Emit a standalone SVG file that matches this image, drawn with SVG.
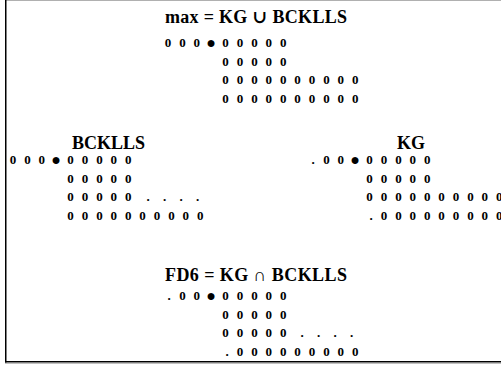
<svg xmlns="http://www.w3.org/2000/svg" width="501" height="367" viewBox="0 0 501 367">
<style>
.t{font-family:"Liberation Serif","DejaVu Serif",serif;font-weight:bold;font-size:18px;fill:#000}
.d{font-family:"Liberation Serif","DejaVu Serif",serif;font-weight:bold;font-size:13px;text-anchor:middle;fill:#000}
.b{font-size:16px;font-weight:normal}
.frame{stroke:#000;stroke-width:1.5;fill:none}
</style>
<rect width="501" height="367" fill="#fff"/>
<g id="frame">
<line x1="5" y1="0.5" x2="501" y2="0.5" stroke="#b0b0b0" stroke-width="1"/>
<line class="frame" x1="5.75" y1="0" x2="5.75" y2="362.5"/>
<line class="frame" x1="5" y1="361.75" x2="501" y2="361.75"/>
<line x1="5" y1="363.5" x2="501" y2="363.5" stroke="#c0c0c0" stroke-width="1"/>
</g>
<g id="union">
<text class="t" x="165" y="23" textLength="182" lengthAdjust="spacing">max = KG ∪ BCKLLS</text>
<text class="d" x="168 182.4 196.8 211.2 225.6 240 254.4 268.8 283.2" y="47">000<tspan class="b" dy="1">●</tspan><tspan dy="-1">00000</tspan></text>
<text class="d" x="225.6 240 254.4 268.8 283.2" y="65.5">00000</text>
<text class="d" x="225.6 240 254.4 268.8 283.2 297.6 312 326.4 340.8 355.2" y="84">0000000000</text>
<text class="d" x="225.6 240 254.4 268.8 283.2 297.6 312 326.4 340.8 355.2" y="102.5">0000000000</text>
</g>
<g id="bcklls">
<text class="t" x="72" y="149" textLength="73" lengthAdjust="spacing">BCKLLS</text>
<text class="d" x="13 27.4 41.8 56.2 70.6 85 99.4 113.8 128.2" y="164">000<tspan class="b" dy="1">●</tspan><tspan dy="-1">00000</tspan></text>
<text class="d" x="70.6 85 99.4 113.8 128.2" y="182.5">00000</text>
<text class="d" x="70.6 85 99.4 113.8 128.2 148 164.5 181 197.5" y="201">00000....</text>
<text class="d" x="70.6 85 99.4 113.8 128.2 142.6 157 171.4 185.8 200.2" y="219.5">0000000000</text>
</g>
<g id="kg">
<text class="t" x="397" y="149">KG</text>
<text class="d" x="313 326.4 340.8 355.2 369.6 384 398.4 412.8 427.2" y="164">.00<tspan class="b" dy="1">●</tspan><tspan dy="-1">00000</tspan></text>
<text class="d" x="369.6 384 398.4 412.8 427.2" y="182.5">00000</text>
<text class="d" x="369.6 384 398.4 412.8 427.2 441.6 456 470.4 484.8 499.2" y="201">0000000000</text>
<text class="d" x="371 384 398.4 412.8 427.2 441.6 456 470.4 484.8 499.2" y="219.5">.000000000</text>
</g>
<g id="intersection">
<text class="t" x="165" y="281" textLength="182" lengthAdjust="spacing">FD6 = KG ∩ BCKLLS</text>
<text class="d" x="169 182.4 196.8 211.2 225.6 240 254.4 268.8 283.2" y="300">.00<tspan class="b" dy="1">●</tspan><tspan dy="-1">00000</tspan></text>
<text class="d" x="225.6 240 254.4 268.8 283.2" y="318.5">00000</text>
<text class="d" x="225.6 240 254.4 268.8 283.2 302 318.5 335 351.5" y="337">00000....</text>
<text class="d" x="227 240 254.4 268.8 283.2 297.6 312 326.4 340.8 355.2" y="355.5">.000000000</text>
</g>
<g id="connectors"></g>
</svg>
